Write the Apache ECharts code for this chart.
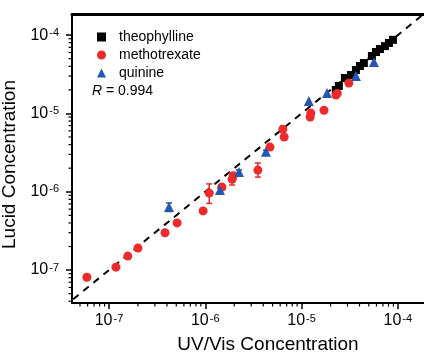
<!DOCTYPE html>
<html>
<head>
<meta charset="utf-8">
<script src="https://cdn.jsdelivr.net/npm/echarts@6/dist/echarts.min.js"></script>
<style>
  html, body { margin: 0; padding: 0; background: #fff; }
  #chart { width: 424px; height: 354px; }
</style>
</head>
<body>
<div id="chart"></div>
<script>
// values, [UV/Vis, Lucid] in mol/L
const theophylline = [
  [2.27e-5, 1.99e-5], [2.44e-5, 2.24e-5], [2.82e-5, 2.83e-5], [3.26e-5, 3.09e-5],
  [3.67e-5, 3.58e-5], [4.04e-5, 4.03e-5], [4.44e-5, 4.4e-5], [5.38e-5, 5.41e-5],
  [5.93e-5, 6.08e-5], [6.52e-5, 6.64e-5], [7.35e-5, 7.24e-5], [8.09e-5, 7.94e-5],
  [8.9e-5, 8.7e-5]
];
const methotrexate = [
  [5.9e-8, 8.1e-8], [1.18e-7, 1.09e-7], [1.57e-7, 1.51e-7], [2.0e-7, 1.91e-7],
  [3.82e-7, 3.0e-7], [5.1e-7, 4.0e-7], [9.5e-7, 5.7e-7], [1.1e-6, 9.6e-7],
  [1.49e-6, 1.15e-6], [1.9e-6, 1.44e-6], [1.95e-6, 1.6e-6], [3.52e-6, 1.89e-6],
  [4.7e-6, 3.72e-6], [6.4e-6, 6.3e-6], [6.6e-6, 5.0e-6], [1.23e-5, 9.0e-6],
  [1.25e-5, 1.01e-5], [1.71e-5, 1.1e-5], [2.28e-5, 1.72e-5], [2.35e-5, 1.8e-5],
  [3.1e-5, 2.44e-5]
];
const quinine = [
  [4.2e-7, 6.4e-7], [1.42e-6, 1.05e-6], [2.24e-6, 1.79e-6], [4.27e-6, 3.24e-6],
  [1.19e-5, 1.44e-5], [1.84e-5, 1.82e-5], [3.67e-5, 3.0e-5], [5.65e-5, 4.53e-5]
];
// [x, low, high]
const methotrexateErr = [
  [5.9e-8, 7.5e-8, 8.7e-8], [1.18e-7, 1.04e-7, 1.14e-7], [3.82e-7, 2.85e-7, 3.15e-7],
  [1.1e-6, 7.1e-7, 1.26e-6], [1.9e-6, 1.22e-6, 1.73e-6], [3.52e-6, 1.54e-6, 2.33e-6],
  [6.4e-6, 5.7e-6, 6.9e-6]
];
const quinineErr = [
  [4.2e-7, 5.6e-7, 7.2e-7], [1.42e-6, 0.98e-6, 1.12e-6], [2.24e-6, 1.68e-6, 1.9e-6],
  [4.27e-6, 3.1e-6, 3.4e-6]
];
const identityLine = [[1e-8, 1e-8], [1e-3, 1e-3]];
const majorTicks = [1e-7, 1e-6, 1e-5, 1e-4];
const minorTicks = [];
for (let e = -8; e <= -4; e++) {
  for (let k = 2; k <= 9; k++) minorTicks.push(+(k * Math.pow(10, e)).toPrecision(3));
}

const FONT = '"Liberation Sans", Arial, sans-serif';
const RED = '#ee2a2a';
const BLUE = '#2457b0';

const chart = echarts.init(document.getElementById('chart'));

function powLabel(v) {
  return '{b|10}{s|' + Math.round(Math.log10(v)) + '}';
}
const labelRich = {
  b: { fontSize: 16, fontFamily: FONT, color: '#000' },
  s: { fontSize: 11, fontFamily: FONT, color: '#000', verticalAlign: 'top', padding: [0, 0, 0, 1] }
};

function errorBars(color) {
  return function (params, api) {
    const top = api.coord([api.value(0), api.value(2)]);
    const bot = api.coord([api.value(0), api.value(1)]);
    const w = 3;
    const style = { stroke: color, lineWidth: 1.5 };
    return {
      type: 'group',
      children: [
        { type: 'line', shape: { x1: top[0], y1: top[1], x2: bot[0], y2: bot[1] }, style },
        { type: 'line', shape: { x1: top[0] - w, y1: top[1], x2: top[0] + w, y2: top[1] }, style },
        { type: 'line', shape: { x1: bot[0] - w, y1: bot[1], x2: bot[0] + w, y2: bot[1] }, style }
      ]
    };
  };
}

const xRange = { min: 4.13e-8, max: 1.87e-4 };
const yRange = { min: 3.8e-8, max: 1.86e-4 };
const tickLine = { color: '#000', width: 1.5 };

const rLabel = {
  type: 'text',
  left: 92,
  top: 84,
  style: {
    text: '{i|R} = 0.994',
    rich: { i: { fontStyle: 'italic', fontFamily: FONT, fontSize: 14, fill: '#000' } },
    fontFamily: FONT,
    fontSize: 14,
    fill: '#000'
  }
};

chart.setOption({
  animation: false,
  backgroundColor: '#fff',
  grid: { left: 72, right: 0, top: 14, bottom: 51, outerBoundsMode: 'none', containLabel: false },
  legend: {
    orient: 'vertical',
    left: 92,
    top: 24,
    itemWidth: 9,
    itemHeight: 9,
    itemGap: 2,
    data: ['theophylline', 'methotrexate', 'quinine'],
    textStyle: { fontFamily: FONT, fontSize: 14, color: '#000', lineHeight: 16, padding: [0, 0, 0, 8] }
  },
  graphic: [rLabel],
  xAxis: [
    {
      type: 'log', ...xRange, position: 'bottom',
      name: 'UV/Vis Concentration', nameLocation: 'middle', nameGap: 32,
      nameTextStyle: { fontFamily: FONT, fontSize: 19, color: '#000', padding: [0, 0, 0, 40] },
      axisLine: { show: true, lineStyle: { color: '#000', width: 2 } },
      axisTick: { show: true, inside: false, customValues: majorTicks, length: 6, lineStyle: tickLine },
      axisLabel: { customValues: majorTicks, margin: 10, formatter: powLabel, rich: labelRich },
      splitLine: { show: false }
    },
    {
      type: 'log', ...xRange, position: 'top',
      axisLine: { show: true, lineStyle: { color: '#000', width: 3 } },
      axisTick: { show: false }, axisLabel: { show: false }, splitLine: { show: false }
    }
  ],
  yAxis: [
    {
      type: 'log', ...yRange, position: 'left',
      name: 'Lucid Concentration', nameLocation: 'middle', nameGap: 41,
      nameTextStyle: { fontFamily: FONT, fontSize: 19, color: '#000', padding: [0, 12, 0, 0] },
      axisLine: { show: true, lineStyle: { color: '#000', width: 2 } },
      axisTick: { show: true, inside: false, customValues: majorTicks, length: 6, lineStyle: tickLine },
      axisLabel: { customValues: majorTicks, margin: 13, formatter: powLabel, rich: labelRich },
      splitLine: { show: false }
    }
  ],
  series: [
    {
      type: 'line', data: identityLine, symbol: 'none', silent: true,
      lineStyle: { color: '#000', width: 2, type: [7, 6] }, z: 1
    },
    {
      type: 'custom', renderItem: errorBars(RED), data: methotrexateErr,
      encode: { x: 0, y: [1, 2] }, z: 2
    },
    {
      type: 'custom', renderItem: errorBars(BLUE), data: quinineErr,
      encode: { x: 0, y: [1, 2] }, z: 2
    },
    {
      name: 'theophylline', type: 'scatter', data: theophylline,
      symbol: 'rect', symbolSize: 8, itemStyle: { color: '#000', opacity: 1 }, z: 3
    },
    {
      name: 'methotrexate', type: 'scatter', data: methotrexate,
      symbol: 'circle', symbolSize: 9, itemStyle: { color: RED, opacity: 1 }, z: 3
    },
    {
      name: 'quinine', type: 'scatter', data: quinine,
      symbol: 'triangle', symbolSize: 10, itemStyle: { color: BLUE, opacity: 1 }, z: 4
    }
  ]
});

// minor log ticks, positioned through the grid's own scales
const ticks = [];
minorTicks.forEach((v) => {
  if (v >= xRange.min && v <= xRange.max) {
    const p = chart.convertToPixel('grid', [v, yRange.min]);
    if (p && isFinite(p[0]) && isFinite(p[1])) {
      ticks.push({ type: 'line', silent: true, z: 100,
        shape: { x1: p[0], y1: p[1], x2: p[0], y2: p[1] + 3.5 }, style: { stroke: '#000', lineWidth: 1.2 } });
    }
  }
  if (v >= yRange.min && v <= yRange.max) {
    const p = chart.convertToPixel('grid', [xRange.min, v]);
    if (p && isFinite(p[0]) && isFinite(p[1])) {
      ticks.push({ type: 'line', silent: true, z: 100,
        shape: { x1: p[0], y1: p[1], x2: p[0] - 3.5, y2: p[1] }, style: { stroke: '#000', lineWidth: 1.2 } });
    }
  }
});
chart.setOption({ graphic: [rLabel, ...ticks] });
</script>
</body>
</html>
